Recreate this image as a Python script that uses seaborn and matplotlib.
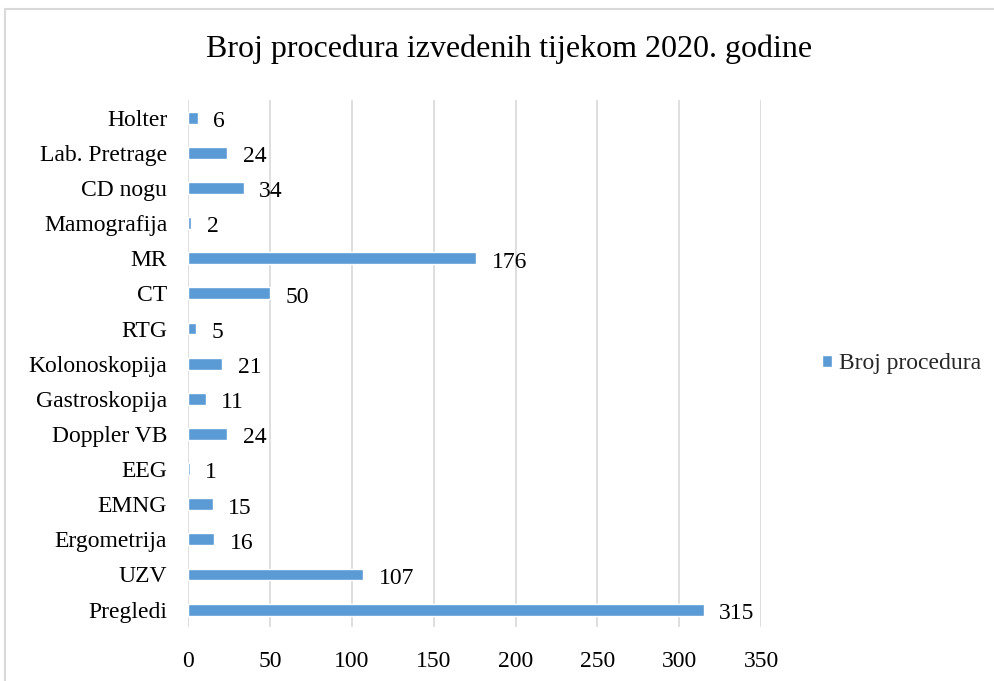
# Data handling
import pandas as pd

# Visualization
import matplotlib
matplotlib.use("Agg")
import matplotlib.pyplot as plt
import seaborn as sns
from matplotlib.patches import Rectangle

# Chart data (top to bottom as shown)
categories = [
    "Holter", "Lab. Pretrage", "CD nogu", "Mamografija", "MR", "CT", "RTG",
    "Kolonoskopija", "Gastroskopija", "Doppler VB", "EEG", "EMNG",
    "Ergometrija", "UZV", "Pregledi",
]
counts = [6, 24, 34, 2, 176, 50, 5, 21, 11, 24, 1, 15, 16, 107, 315]
x_ticks = [0, 50, 100, 150, 200, 250, 300, 350]

title = "Broj procedura izvedenih tijekom 2020. godine"
series_name = "Broj procedura"
bar_color = "#5B9BD5"

df = pd.DataFrame({"procedure": categories, "count": counts})

sns.set_theme(style="white")
plt.rcParams["font.family"] = ["Liberation Serif", "DejaVu Serif"]

fig = plt.figure(figsize=(9.95, 6.81), dpi=100)
ax = fig.add_axes([0.189, 0.079, 0.576, 0.774])

sns.barplot(
    data=df, y="procedure", x="count", orient="h", color=bar_color,
    saturation=1, width=0.34, label=series_name, ax=ax,
)

# value labels, a bit right of each bar end
for i, v in enumerate(counts):
    ax.annotate(str(v), xy=(v, i), xytext=(11, -1), textcoords="offset points",
                ha="left", va="center_baseline", fontsize=17, color="#000000")

ax.set_xlim(0, 350)
ax.set_xticks(x_ticks)
ax.set_ylim(len(categories) - 0.5, -0.5)
ax.grid(axis="x", color="#D9D9D9", linewidth=1.2)
ax.set_axisbelow(True)
for s in ax.spines.values():
    s.set_visible(False)
ax.tick_params(axis="both", length=0, labelsize=17, colors="#000000")
ax.tick_params(axis="y", pad=15)
ax.tick_params(axis="x", pad=17)
ax.set_xlabel("")
ax.set_ylabel("")

ax.legend(loc="center left", bbox_to_anchor=(1.1065, 0.5), frameon=False,
          fontsize=17, handlelength=0.4, handleheight=0.4,
          handletextpad=0.3, borderpad=0, borderaxespad=0)

fig.text(0.512, 0.927, title, ha="center", va="center", fontsize=23,
         color="#000000")

# outer chart border
fig.patches.append(Rectangle((5 / 995, -0.05), 1.1, 1 - 9 / 681 + 0.05,
                             transform=fig.transFigure, fill=False,
                             edgecolor="#D9D9D9", linewidth=1.5))

fig.savefig("out.png", dpi=100)
